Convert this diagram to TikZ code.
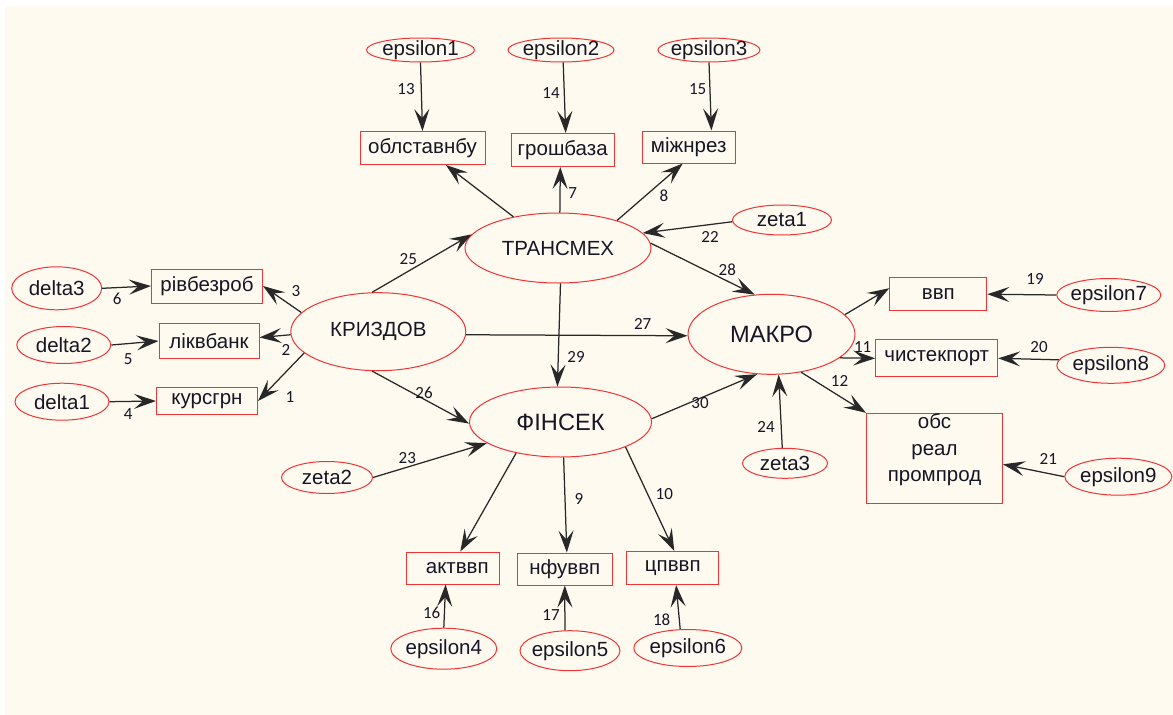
\documentclass[tikz,border=0pt]{standalone}
\usepackage{fontspec}
\setmainfont{Liberation Sans}
\newfontfamily\lblfont{Carlito}
\usetikzlibrary{shapes.geometric,arrows.meta}
\definecolor{cream}{RGB}{255,250,240}
\definecolor{redline}{RGB}{238,52,52}
\definecolor{edgec}{RGB}{40,40,40}
\definecolor{txt}{RGB}{22,22,36}
\tikzset{
  ell/.style={ellipse, draw=redline, line width=1pt, inner sep=-40pt, text=txt,
    font=\fontsize{20.5}{24}\selectfont},
  bigell/.style={ell, font=\fontsize{23.6}{27}\selectfont},
  box/.style={rectangle, draw=redline, line width=1pt, inner sep=0pt, text=txt,
    font=\fontsize{20.5}{24}\selectfont},
  arr/.style={draw=edgec, line width=1.25pt,
    -{Stealth[length=22pt,width=15pt,inset=9pt]}},
  lbl/.style={font=\lblfont\fontsize{17}{20}\selectfont, text=txt, inner sep=0pt}
}
\begin{document}
\begin{tikzpicture}[x=1pt,y=-1pt]
\useasboundingbox (0,0) rectangle (1173,715);
\fill[white] (0,0) rectangle (1173,715);
\fill[cream] (5,5.5) rectangle (1173,715);

% latent ellipses
\node[ell, minimum width=186pt, minimum height=70pt] (trans) at (558,248) {ТРАНСМЕХ};
\node[ell, minimum width=175pt, minimum height=78pt] (krizd) at (378.3,331.7) {КРИЗДОВ};
\node[bigell, minimum width=182pt, minimum height=70pt] (fin) at (560.5,422) {ФІНСЕК};
\node[bigell, minimum width=167pt, minimum height=80pt] (makro) at (771.5,334.3) {МАКРО};

% error ellipses
\node[ell, minimum width=108pt, minimum height=24pt] (e1) at (420.5,50) {epsilon1};
\node[ell, minimum width=106pt, minimum height=24pt] (e2) at (561,50) {epsilon2};
\node[ell, minimum width=102pt, minimum height=24pt] (e3) at (709,50) {epsilon3};
\node[ell, minimum width=99pt, minimum height=30pt] (z1) at (782,220) {zeta1};
\node[ell, minimum width=91pt, minimum height=32pt] (z2) at (327,477.5) {zeta2};
\node[ell, minimum width=85pt, minimum height=30pt] (z3) at (785,463.3) {zeta3};
\node[ell, minimum width=90pt, minimum height=43pt] (d3) at (56.7,288.3) {delta3};
\node[ell, minimum width=94pt, minimum height=37pt] (d2) at (63.8,345) {delta2};
\node[ell, minimum width=94pt, minimum height=37pt] (d1) at (62,401.7) {delta1};
\node[ell, minimum width=106pt, minimum height=41pt] (e4) at (443.8,648.7) {epsilon4};
\node[ell, minimum width=100pt, minimum height=40pt] (e5) at (570,650.7) {epsilon5};
\node[ell, minimum width=108pt, minimum height=37pt] (e6) at (687.8,648) {epsilon6};
\node[ell, minimum width=104pt, minimum height=33pt] (e7) at (1108.8,295) {epsilon7};
\node[ell, minimum width=108pt, minimum height=36pt] (e8) at (1110.8,365.3) {epsilon8};
\node[ell, minimum width=107pt, minimum height=37pt] (e9) at (1118.3,476.7) {epsilon9};

% observed boxes
\node[box, minimum width=125pt, minimum height=33pt] (obl) at (422.5,148) {облставнбу};
\node[box, minimum width=103pt, minimum height=33pt] (grosh) at (562.7,150) {грошбаза};
\node[box, minimum width=93pt, minimum height=32pt] (mizh) at (688.7,147) {міжнрез};
\node[box, minimum width=111pt, minimum height=34pt] (rivb) at (207,286) {рівбезроб};
\node[box, minimum width=100pt, minimum height=35pt] (likv) at (209,341) {ліквбанк};
\node[box, minimum width=101pt, minimum height=27pt] (kurs) at (207,401) {курсгрн};
\node[box, minimum width=93pt, minimum height=32pt] (akt) at (453.3,568) {\hspace*{8pt}актввп};
\node[box, minimum width=95pt, minimum height=32pt] (nfu) at (564.8,569) {нфуввп};
\node[box, minimum width=92pt, minimum height=33pt] (cpv) at (672.8,568) {цпввп};
\node[box, minimum width=97pt, minimum height=33pt] (vvp) at (938.3,294.2) {ввп};
\node[box, minimum width=122pt, minimum height=37pt] (chist) at (936.7,358.3) {чистекпорт};
\node[box, minimum width=136pt, minimum height=90pt] (obs) at (934.5,458.3) {};
\node[text=txt, align=center, inner sep=0pt, font=\fontsize{20.5}{26.5}\selectfont] (obst) at (934.5,450) {обс\\реал\\промпрод};

% connectors
\draw[arr] (krizd.166.8) -- (rivb.east);
\draw[arr] (krizd.182.2) -- (likv.4);
\draw[arr] (krizd.196.2) -- (kurs.east);
\draw[arr] (krizd.99.5) -- (trans.171.8);
\draw[arr] (krizd.261) -- (fin.181.9);
\draw[arr] (krizd.-2.8) -- (makro.181);
\draw[arr] (trans.145.8) -- (obl.-36);
\draw[arr] (trans.87) -- (grosh.-98);
\draw[arr] (trans.25) -- (mizh.-110.5);
\draw[arr] (trans.3.9) -- (makro.113.6);
\draw[arr] (trans.-86.7) -- (fin.95.4);
\draw[arr] (z1.182.3) -- (trans.10.7);
\draw[arr] (fin.2) -- (makro.250.8);
\draw[arr] (z2.east) -- (fin.196.6);
\draw[arr] (fin.215) -- (akt.67.6);
\draw[arr] (fin.-85) -- (nfu.83);
\draw[arr] (fin.-21.2) -- (cpv.85.8);
\draw[arr] (makro.15.5) -- (vvp.173);
\draw[arr] (makro.-19.6) -- (chist.west);
\draw[arr] (makro.-52.7) -- (obs.north west);
\draw[arr] (z3.100) -- (makro.-80.4);
\draw[arr] (e1.south) -- (obl.north);
\draw[arr] (e2.-80) -- (grosh.80);
\draw[arr] (e3.south) -- (mizh.36);
\draw[arr] (d3.east) -- (rivb.west);
\draw[arr] (d2.east) -- (likv.west);
\draw[arr] (d1.east) -- (kurs.west);
\draw[arr] (e4.north) -- (akt.-115);
\draw[arr] (e5.104) -- (nfu.south);
\draw[arr] (e6.112) -- (cpv.-79);
\draw[arr] (e7.west) -- (vvp.east);
\draw[arr] (e8.174) -- (chist.east);
\draw[arr] (e9.west) -- (obs.-5);

% connector labels
\node[lbl] (l1) at (290,396.7) {1};
\node[lbl] (l2) at (286,350) {2};
\node[lbl] (l3) at (296,290.7) {3};
\node[lbl] (l4) at (128.3,414) {4};
\node[lbl] (l5) at (128.3,359.3) {5};
\node[lbl] (l6) at (117.3,299.3) {6};
\node[lbl] (l7) at (572.7,192.7) {7};
\node[lbl] (l8) at (664,196) {8};
\node[lbl] (l9) at (579,499) {9};
\node[lbl] (l10) at (664.3,494) {10};
\node[lbl] (l11) at (862.7,347.3) {11};
\node[lbl] (l12) at (839.5,380.5) {12};
\node[lbl] (l13) at (406,89) {13};
\node[lbl] (l14) at (551,92.7) {14};
\node[lbl] (l15) at (697.7,89) {15};
\node[lbl] (l16) at (431.7,612.7) {16};
\node[lbl] (l17) at (551,615) {17};
\node[lbl] (l18) at (661.7,619.3) {18};
\node[lbl] (l19) at (1035,279) {19};
\node[lbl] (l20) at (1039,347.3) {20};
\node[lbl] (l21) at (1048.3,459.3) {21};
\node[lbl] (l22) at (710,237.3) {22};
\node[lbl] (l23) at (407.3,458.3) {23};
\node[lbl] (l24) at (766,426.7) {24};
\node[lbl] (l25) at (408.3,259.5) {25};
\node[lbl] (l26) at (424,392.7) {26};
\node[lbl] (l27) at (642.7,324) {27};
\node[lbl] (l28) at (727.3,270) {28};
\node[lbl] (l29) at (576,356.7) {29};
\node[lbl] (l30) at (700,402.7) {30};
\end{tikzpicture}
\end{document}
